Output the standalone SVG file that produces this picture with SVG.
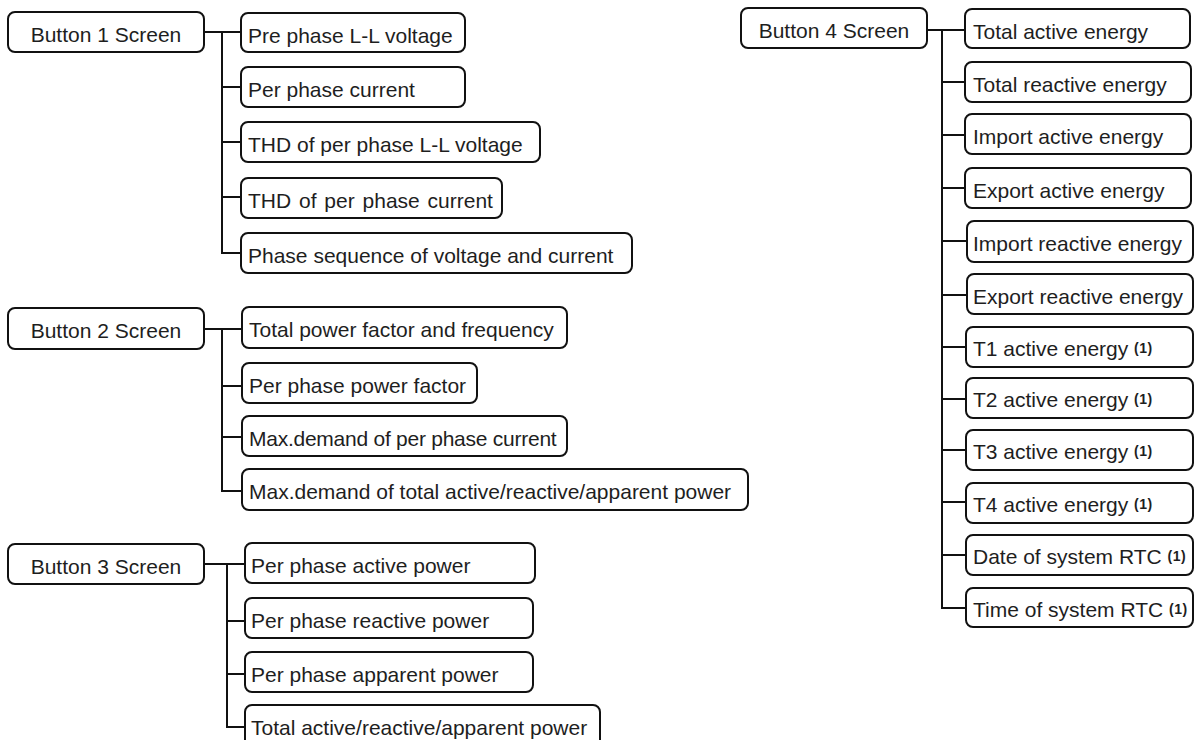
<svg xmlns="http://www.w3.org/2000/svg" width="1198" height="740" viewBox="0 0 1198 740">
<style>
  .box { fill: #ffffff; stroke: #111111; stroke-width: 2; }
  .lbl { font-family: "Liberation Sans", Arial, sans-serif; font-size: 21px; fill: #1e1e1e; }
  .ctr { text-anchor: middle; }
  .sup { font-size: 14px; font-weight: bold; letter-spacing: 0.5px; }
  .conn { fill: none; stroke: #111111; stroke-width: 2; }
</style>
<rect x="0" y="0" width="1198" height="740" fill="#ffffff"/>

<g id="connectors">
  <path class="conn" d="M204,32 H241 M222,32 V253 H241 M222,87 H241 M222,142 H241 M222,197 H241"/>
  <path class="conn" d="M204,329 H242 M222,329 V491 H242 M222,386 H242 M222,437 H242"/>
  <path class="conn" d="M204,564 H245 M227,564 V727 H245 M227,621 H245 M227,674 H245"/>
  <path class="conn" d="M927,30 H965 M942,30 V608 H966 M942,82 H965 M942,135 H965 M942,188 H965 M942,241 H967 M942,295 H967 M942,347 H966 M942,399 H966 M942,450 H966 M942,502 H966 M942,555 H966"/>
</g>

<!-- Button 1 -->
<g id="btn1"><rect class="box" x="8" y="12" width="196" height="40" rx="7"/><text class="lbl ctr" x="106" y="41.5">Button 1 Screen</text></g>
<g id="b1c1"><rect class="box" x="241" y="13" width="224" height="39" rx="7"/><text class="lbl" x="248" y="42.5">Pre phase L-L voltage</text></g>
<g id="b1c2"><rect class="box" x="241" y="67" width="224" height="40" rx="7"/><text class="lbl" x="248" y="96.5">Per phase current</text></g>
<g id="b1c3"><rect class="box" x="241" y="122" width="299" height="40" rx="7"/><text class="lbl" x="248" y="151.5">THD of per phase L-L voltage</text></g>
<g id="b1c4"><rect class="box" x="241" y="178" width="261" height="40" rx="7"/><text class="lbl" x="248" y="207.5" word-spacing="2">THD of per phase current</text></g>
<g id="b1c5"><rect class="box" x="241" y="233" width="391" height="40" rx="7"/><text class="lbl" x="248" y="262.5">Phase sequence of voltage and current</text></g>

<!-- Button 2 -->
<g id="btn2"><rect class="box" x="8" y="308" width="196" height="41" rx="7"/><text class="lbl ctr" x="106" y="338">Button 2 Screen</text></g>
<g id="b2c1"><rect class="box" x="242" y="307" width="325" height="41" rx="7"/><text class="lbl" x="249" y="337">Total power factor and frequency</text></g>
<g id="b2c2"><rect class="box" x="242" y="363" width="235" height="40" rx="7"/><text class="lbl" x="249" y="392.5">Per phase power factor</text></g>
<g id="b2c3"><rect class="box" x="242" y="416" width="325" height="40" rx="7"/><text class="lbl" x="249" y="445.5" letter-spacing="-0.25">Max.demand of per phase current</text></g>
<g id="b2c4"><rect class="box" x="242" y="469" width="506" height="41" rx="7"/><text class="lbl" x="249" y="499">Max.demand of total active/reactive/apparent power</text></g>

<!-- Button 3 -->
<g id="btn3"><rect class="box" x="8" y="544" width="196" height="40" rx="7"/><text class="lbl ctr" x="106" y="573.5">Button 3 Screen</text></g>
<g id="b3c1"><rect class="box" x="245" y="543" width="290" height="40" rx="7"/><text class="lbl" x="251" y="572.5">Per phase active power</text></g>
<g id="b3c2"><rect class="box" x="245" y="598" width="288" height="40" rx="7"/><text class="lbl" x="251" y="627.5">Per phase reactive power</text></g>
<g id="b3c3"><rect class="box" x="245" y="652" width="288" height="40" rx="7"/><text class="lbl" x="251" y="681.5">Per phase apparent power</text></g>
<g id="b3c4"><rect class="box" x="245" y="705" width="355" height="42" rx="7"/><text class="lbl" x="251" y="734.5">Total active/reactive/apparent power</text></g>

<!-- Button 4 -->
<g id="btn4"><rect class="box" x="741" y="8" width="186" height="40" rx="7"/><text class="lbl ctr" x="834" y="38">Button 4 Screen</text></g>
<g id="b4c1"><rect class="box" x="965" y="9" width="225" height="39" rx="7"/><text class="lbl" x="973" y="38.5">Total active energy</text></g>
<g id="b4c2"><rect class="box" x="965" y="62" width="226" height="40" rx="7"/><text class="lbl" x="973" y="91.5">Total reactive energy</text></g>
<g id="b4c3"><rect class="box" x="965" y="114" width="226" height="40" rx="7"/><text class="lbl" x="973" y="143.5">Import active energy</text></g>
<g id="b4c4"><rect class="box" x="965" y="168" width="226" height="40" rx="7"/><text class="lbl" x="973" y="197.5">Export active energy</text></g>
<g id="b4c5"><rect class="box" x="967" y="221" width="226" height="41" rx="7"/><text class="lbl" x="973" y="251">Import reactive energy</text></g>
<g id="b4c6"><rect class="box" x="967" y="274" width="226" height="40" rx="7"/><text class="lbl" x="973" y="303.5">Export reactive energy</text></g>
<g id="b4c7"><rect class="box" x="966" y="327" width="227" height="40" rx="7"/><text class="lbl" x="973" y="356">T1 active energy <tspan class="sup" dy="-3">(1)</tspan></text></g>
<g id="b4c8"><rect class="box" x="966" y="378" width="227" height="40" rx="7"/><text class="lbl" x="973" y="407">T2 active energy <tspan class="sup" dy="-3">(1)</tspan></text></g>
<g id="b4c9"><rect class="box" x="966" y="430" width="227" height="40" rx="7"/><text class="lbl" x="973" y="459">T3 active energy <tspan class="sup" dy="-3">(1)</tspan></text></g>
<g id="b4c10"><rect class="box" x="966" y="483" width="227" height="40" rx="7"/><text class="lbl" x="973" y="512">T4 active energy <tspan class="sup" dy="-3">(1)</tspan></text></g>
<g id="b4c11"><rect class="box" x="966" y="535" width="227" height="40" rx="7"/><text class="lbl" x="973" y="564">Date of system RTC <tspan class="sup" dy="-3">(1)</tspan></text></g>
<g id="b4c12"><rect class="box" x="966" y="588" width="227" height="39" rx="7"/><text class="lbl" x="973" y="617">Time of system RTC <tspan class="sup" dy="-3">(1)</tspan></text></g>
</svg>
